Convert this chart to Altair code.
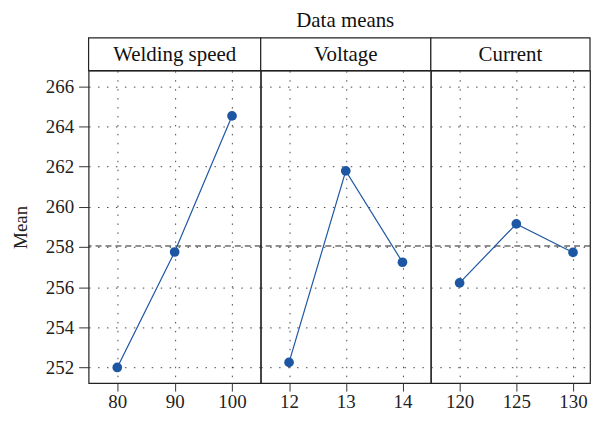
import altair as alt
import pandas as pd

title_text = "Data means"
factors = ["Welding speed", "Voltage", "Current"]
levels = [[80, 90, 100], [12, 13, 14], [120, 125, 130]]
means = [[252.0, 257.75, 264.53], [252.25, 261.79, 257.24], [256.21, 259.15, 257.73]]
x_domains = [[75, 105], [11.5, 14.5], [117.46, 131.5]]
grand_mean = 258.05
y_ticks = [252, 254, 256, 258, 260, 262, 264, 266]
y_domain = [251.22, 266.78]
panel_widths = [173, 171, 160]
PLOT_H = 314
HEAD_H = 33

FONT = "Liberation Serif"
BLUE = "#1d57a3"
GRID = dict(grid=True, gridDash=[1.5, 7.5], gridColor="#333", gridOpacity=0.9)

panels = []
for i, f in enumerate(factors):
    df = pd.DataFrame({"level": levels[i], "mean": means[i]})
    if i == 0:
        yaxis = alt.Axis(values=y_ticks, title="Mean", tickSize=10, tickColor="#333",
                         domain=False, labelPadding=5, titlePadding=15, **GRID)
    else:
        yaxis = alt.Axis(values=y_ticks, labels=False, ticks=False, domain=False,
                         title=None, minExtent=0, maxExtent=0, labelPadding=0, **GRID)
    yscale = alt.Scale(domain=y_domain, nice=False, zero=False)
    x = alt.X("level:Q", scale=alt.Scale(domain=x_domains[i], nice=False, zero=False),
              axis=alt.Axis(values=levels[i], title=None, tickSize=8, tickColor="#333",
                            domain=False, labelPadding=2, format="d", **GRID))
    y = alt.Y("mean:Q", scale=yscale, axis=yaxis)
    base = alt.Chart(df)
    line = base.mark_line(color=BLUE, strokeWidth=1.2).encode(x=x, y=y)
    pts = base.mark_circle(color=BLUE, opacity=1, size=95).encode(x=x, y=y)
    ref = alt.Chart(pd.DataFrame({"m": [grand_mean]})).mark_rule(
        color="#222", strokeDash=[6, 4], strokeWidth=1).encode(
        y=alt.Y("m:Q", scale=yscale))
    hdf = pd.DataFrame({"factor": [f]})
    box = alt.Chart(hdf).mark_rect(fill="white", stroke="#222", strokeWidth=1.2).encode(
        x=alt.value(0), x2=alt.value(panel_widths[i]),
        y=alt.value(-HEAD_H), y2=alt.value(0))
    htext = alt.Chart(hdf).mark_text(
        font=FONT, fontSize=21, color="#111", baseline="middle").encode(
        text="factor:N", x=alt.value(panel_widths[i] / 2), y=alt.value(-HEAD_H / 2 + 1))
    layers = [ref, line, pts, box, htext]
    if i == 1:
        ttl = alt.Chart(pd.DataFrame({"t": [title_text]})).mark_text(
            font=FONT, fontSize=21, color="#111", baseline="alphabetic").encode(
            text="t:N", x=alt.value(85), y=alt.value(-44))
        layers.append(ttl)
    plot = alt.layer(*layers).properties(width=panel_widths[i], height=PLOT_H)
    panels.append(plot)

chart = alt.hconcat(*panels, spacing=0, bounds="flush").properties(
    padding={"left": 2, "top": 0, "right": 0, "bottom": 0},
).configure_view(stroke="#222", strokeWidth=1.2).configure_axis(
    labelFont=FONT, labelFontSize=19, labelColor="#222", titleFont=FONT,
    titleFontSize=19, titleFontWeight="normal", titleColor="#222"
).configure_concat(spacing=0)

chart.save("out.html", embed_options={"renderer": "svg", "actions": False})
